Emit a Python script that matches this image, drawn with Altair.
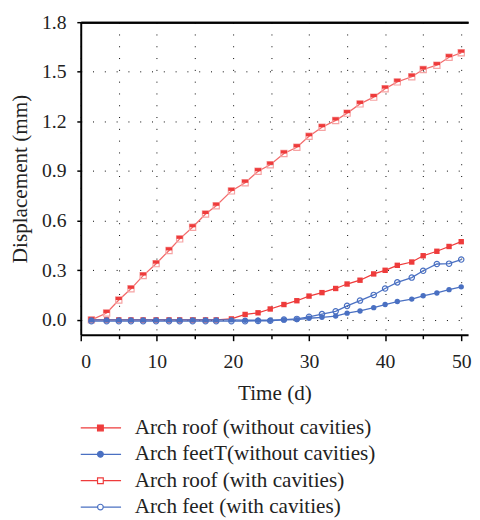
import altair as alt
import pandas as pd

# ---------------- data ----------------
days = [1.4, 3.4, 5.0, 6.6, 8.2, 9.9, 11.6, 13.0, 14.7, 16.4, 17.8, 19.8,
        21.6, 23.3, 24.9, 26.7, 28.4, 30.0, 31.7, 33.5, 35.0, 36.7, 38.5,
        40.0, 41.6, 43.5, 45.0, 46.8, 48.4, 50.0]

roof_with = [0.0, 0.042, 0.12, 0.188, 0.268, 0.34, 0.42, 0.49, 0.56, 0.64,
             0.69, 0.78, 0.829, 0.899, 0.938, 1.006, 1.044, 1.11, 1.165,
             1.206, 1.25, 1.306, 1.347, 1.398, 1.439, 1.47, 1.514, 1.54,
             1.588, 1.615]

roof_without = [0.0, 0.0, 0.0, 0.0, 0.0, 0.0, 0.0, 0.0, 0.0, 0.0, 0.0, 0.006,
                0.033, 0.043, 0.066, 0.093, 0.116, 0.144, 0.165, 0.19, 0.217,
                0.24, 0.278, 0.30, 0.33, 0.35, 0.388, 0.415, 0.444, 0.473]

feet_without = [0.0, 0.0, 0.0, 0.0, 0.0, 0.0, 0.0, 0.0, 0.0, 0.0, 0.0, 0.0,
                -0.002, -0.002, -0.002, 0.0, 0.002, 0.01, 0.016, 0.023,
                0.041, 0.054, 0.074, 0.093, 0.111, 0.126, 0.146, 0.163,
                0.183, 0.2]

feet_with = [-0.008, -0.008, -0.008, -0.008, -0.008, -0.008, -0.008, -0.008,
             -0.008, -0.008, -0.008, -0.008, -0.008, -0.006, -0.005, 0.002,
             0.006, 0.019, 0.035, 0.052, 0.085, 0.117, 0.151, 0.19, 0.227,
             0.256, 0.297, 0.338, 0.34, 0.365]

legend_labels = ["Arch roof (without cavities)",
                 "Arch feetT(without cavities)",
                 "Arch roof (with cavities)",
                 "Arch feet (with cavities)"]
legend_colors = ["#ee3b3b", "#4a70c2", "#ee3b3b", "#4a70c2"]
legend_shapes = ["square", "circle", "square", "circle"]
legend_fills = ["#ee3b3b", "#4a70c2", "white", "white"]

x_ticks = [0, 5, 10, 15, 20, 25, 30, 35, 40, 45, 50]
y_ticks = [0.0, 0.15, 0.3, 0.45, 0.6, 0.75, 0.9, 1.05, 1.2, 1.35, 1.5,
           1.65, 1.8]

# ---------------- styling ----------------
FONT = "Liberation Serif"
RED = "#ee3b3b"
RED_LIGHT = "#f36a6a"
PINK = "#f6a3a3"
BLUE = "#4a70c2"
W = 394
H = 318
XMAX = 50.9

def frame(vals):
    return pd.DataFrame({"t": days, "d": vals})

x_scale = alt.Scale(domain=[0, XMAX], nice=False, zero=False)
x_main = alt.X(
    "t:Q", scale=x_scale,
    axis=alt.Axis(
        title="Time (d)", values=x_ticks,
        labelExpr="datum.value % 10 == 0 ? datum.label : ''",
        grid=True, gridDash=[1, 11], gridColor="#000", gridWidth=1,
        domainColor="#000", domainWidth=2,
        tickColor="#000", tickWidth=1.5,
        tickSize={"condition": {"test": "datum.value % 10 == 0", "value": 6}, "value": 4},
        labelFont=FONT, labelFontSize=20, labelColor="#222", labelPadding=11,
        titleFont=FONT, titleFontSize=21.5, titleFontWeight="normal",
        titleColor="#222", titlePadding=12,
    ),
)
x_plain = alt.X("t:Q", scale=x_scale, axis=None)
x_top = alt.X("t:Q", scale=x_scale,
              axis=alt.Axis(orient="top", labels=False, ticks=False, grid=False,
                            title=None, domain=True, domainColor="#000",
                            domainWidth=2))
y_enc = alt.Y(
    "d:Q",
    scale=alt.Scale(domain=[-0.09, 1.8], nice=False, zero=False),
    axis=alt.Axis(
        title="Displacement (mm)", values=y_ticks, format=".1f",
        labelExpr="round(datum.value * 100) % 30 == 0 ? datum.label : ''",
        grid=True, gridColor="#000",
        gridDash={"condition": {"test": "datum.value >= 1.79", "value": []}, "value": [1, 11]},
        gridWidth={"condition": {"test": "datum.value >= 1.79", "value": 2}, "value": 1},
        domainColor="#000", domainWidth=2,
        tickColor="#000", tickWidth=1.5, tickSize=4,
        labelFont=FONT, labelFontSize=20, labelColor="#222", labelPadding=11,
        titleFont=FONT, titleFontSize=21.5, titleFontWeight="normal",
        titleColor="#222", titlePadding=10,
    ),
)

def series(vals, color, line_color, shape, filled, stroke=None, size=34, xenc=x_plain):
    base = alt.Chart(frame(vals))
    ln = base.mark_line(color=line_color, strokeWidth=1.3).encode(x=xenc, y=y_enc)
    if filled:
        pt = base.mark_point(shape=shape, filled=True, color=color, size=size,
                             opacity=1).encode(x=x_plain, y="d:Q")
    else:
        pt = base.mark_point(shape=shape, filled=False, color=stroke or color,
                             strokeWidth=1.2, size=size,
                             opacity=1).encode(x=x_plain, y="d:Q")
    return [ln, pt]

layers = []
layers += series(roof_without, RED, RED, "square", True, size=30, xenc=x_main)
# top curve: open square plus a filled upper half
layers += series(roof_with, RED, RED_LIGHT, "square", False, stroke=PINK, size=40)
layers.append(
    alt.Chart(frame(roof_with)).mark_point(
        shape="M-1,-1H1V0H-1Z", filled=True, color=RED, size=40, opacity=1
    ).encode(x=x_plain, y="d:Q")
)
layers += series(feet_without, BLUE, BLUE, "circle", True, size=30)
layers += series(feet_with, BLUE, BLUE, "circle", False, stroke=BLUE, size=30)

# top frame line: a label-less axis on top
layers.append(
    alt.Chart(frame(roof_with)).mark_point(opacity=0).encode(x=x_top, y="d:Q")
)

main = alt.layer(*layers).resolve_axis(x="independent").properties(
    width=W, height=H
)

# ---------------- legend ----------------
leg = pd.DataFrame({
    "label": legend_labels, "color": legend_colors,
    "shape": legend_shapes, "fill": legend_fills,
})
ly = alt.Y("label:N", sort=legend_labels, axis=None,
           scale=alt.Scale(type="point", padding=0.4))
leg_base = alt.Chart(leg)
leg_rule = leg_base.mark_rule(strokeWidth=1.3).encode(
    x=alt.value(0), x2=alt.value(41), y=ly,
    color=alt.Color("color:N", scale=None),
)
leg_pt = leg_base.mark_point(filled=True, size=34, strokeWidth=1.2, opacity=1).encode(
    x=alt.value(20), y=ly,
    fill=alt.Fill("fill:N", scale=None),
    stroke=alt.Stroke("color:N", scale=None),
    shape=alt.Shape("shape:N", scale=None),
)
leg_txt = leg_base.mark_text(
    align="left", baseline="middle", font=FONT, fontSize=21.5, color="#222"
).encode(x=alt.value(55), y=ly, text="label:N")
legend = alt.layer(leg_rule, leg_pt, leg_txt).properties(width=W, height=102)

chart = alt.vconcat(main, legend, spacing=12).configure_view(
    stroke=None
).properties(
    padding={"left": 2, "top": 0, "right": 0, "bottom": 0}
)

chart.save("out.html", embed_options={"renderer": "svg", "actions": False})
